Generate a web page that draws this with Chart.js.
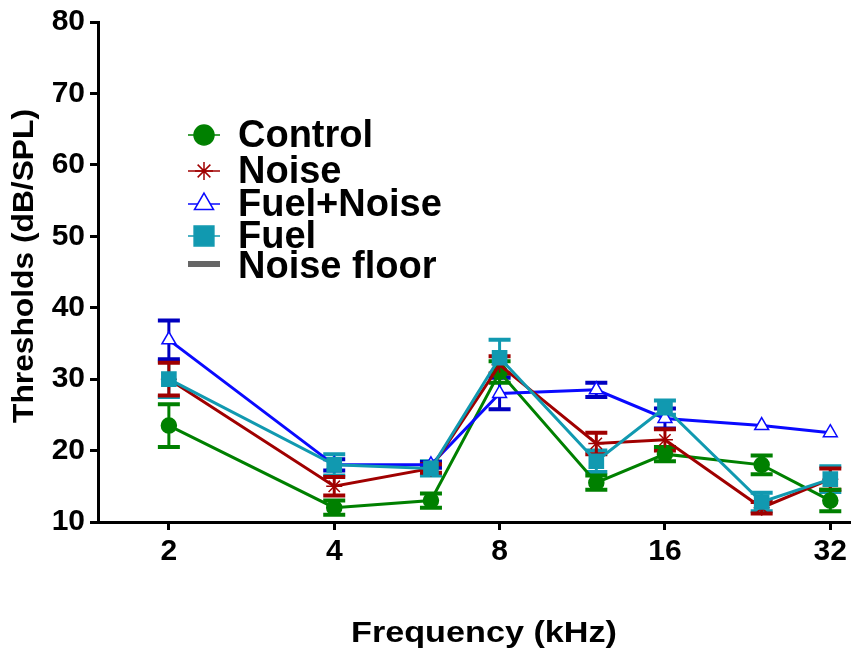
<!DOCTYPE html>
<html>
<head>
<meta charset="utf-8">
<script src="https://cdn.jsdelivr.net/npm/chart.js@4"></script>
<style>
  html, body { margin: 0; padding: 0; background: #fff; }
  #wrap { width: 851px; height: 653px; }
</style>
</head>
<body>
<div id="wrap"><canvas id="myChart"></canvas></div>
<script>
const frequencies = [2, 4, 6, 8, 12, 16, 24, 32];
const xTicks = [2, 4, 8, 16, 32];
const yTicks = [10, 20, 30, 40, 50, 60, 70, 80];

const control = [23.5, 12, 13, 31, 15.5, 19.5, 18, 13];
const controlErr = [3, 1, 1, 1.5, 1, 1, 1.3, 1.5];
const noise = [30, 15, 17.5, 32, 21, 21.5, 12, 16];
const noiseErr = [2.3, 1.3, 0.6, 1.2, 1.5, 1.5, 0.8, 1.5];
const fuelNoise = [35.5, 18, 18, 28, 28.5, 24.5, 23.5, 22.5];
const fuelNoiseErr = [2.7, 0.8, 0.4, 2.2, 1, 1.4, 0, 0];
const fuel = [30, 18, 17.5, 33, 18.5, 26, 12.8, 16];
const fuelErr = [2.5, 1.5, 1, 2.5, 1.5, 1, 1.3, 1.8];

(function () {
    const ctx = document.getElementById('myChart');
    const FONT = '"Liberation Sans", Arial, sans-serif';

    function pts(values) {
        return values.map((v, i) => ({ x: frequencies[i], y: v }));
    }

    const series = [
        { label: 'Control', values: control, err: controlErr, color: '#008000', bar: '#008000', style: 'circle', radius: 7.5, legendRadius: 10, fill: '#008000', order: 3 },
        { label: 'Noise', values: noise, err: noiseErr, color: '#a00000', bar: '#a00000', style: 'star', radius: 8, legendRadius: 9, fill: '#a00000', order: 1 },
        { label: 'Fuel+Noise', values: fuelNoise, err: fuelNoiseErr, color: '#0a0aff', bar: '#0000c0', style: 'triangle', radius: 8, legendRadius: 11, fill: '#ffffff', order: 2 },
        { label: 'Fuel', values: fuel, err: fuelErr, color: '#1199b0', bar: '#1199b0', style: 'rect', radius: 10, legendRadius: 14, fill: '#1199b0', order: 0 }
    ];

    const errorBars = {
        id: 'errorBars',
        beforeDatasetsDraw(chart) {
            const c = chart.ctx;
            const xs = chart.scales.x, ys = chart.scales.y;
            c.save();
            series.slice().reverse().forEach(s => {
                c.strokeStyle = s.bar;
                s.values.forEach((v, i) => {
                    if (!s.err[i]) return;
                    const x = xs.getPixelForValue(frequencies[i]);
                    const yt = ys.getPixelForValue(v + s.err[i]);
                    const yb = ys.getPixelForValue(v - s.err[i]);
                    c.lineWidth = 3;
                    c.beginPath();
                    c.moveTo(x, yt); c.lineTo(x, yb);
                    c.stroke();
                    c.lineWidth = 4;
                    c.beginPath();
                    c.moveTo(x - 11, yt); c.lineTo(x + 11, yt);
                    c.moveTo(x - 11, yb); c.lineTo(x + 11, yb);
                    c.stroke();
                });
            });
            c.restore();
        }
    };

    function stretchedText(c, text, cx, cy, width, rot) {
        const w = c.measureText(text).width;
        c.save();
        c.translate(cx, cy);
        if (rot) c.rotate(rot);
        c.scale(width / w, 1);
        c.fillText(text, 0, 0);
        c.restore();
    }

    const texts = {
        id: 'texts',
        afterDraw(chart) {
            const c = chart.ctx;
            c.save();
            c.fillStyle = '#000';
            c.font = 'bold 30px ' + FONT;
            c.textAlign = 'center';
            c.textBaseline = 'middle';
            stretchedText(c, 'Frequency (kHz)', 484, 634, 266, 0);
            stretchedText(c, 'Thresholds (dB/SPL)', 25, 266, 314, -Math.PI / 2);
            c.restore();

            // legend
            c.save();
            c.font = 'bold 38px ' + FONT;
            c.textBaseline = 'middle';
            const rows = [135, 171, 204, 236, 266];
            series.forEach((s, i) => {
                const y = rows[i];
                c.strokeStyle = s.color;
                c.lineWidth = 1.5;
                c.beginPath(); c.moveTo(188, y); c.lineTo(220, y); c.stroke();
                c.fillStyle = s.fill;
                c.strokeStyle = s.color;
                c.lineWidth = 1.5;
                Chart.helpers.drawPoint(c, { pointStyle: s.style, radius: s.legendRadius, borderWidth: 1.5, rotation: 0 }, 204, y);
                c.fillStyle = '#000';
                c.fillText(s.label, 238, y + 2);
            });
            c.fillStyle = '#666';
            c.fillRect(188, 261, 32, 6);
            c.fillStyle = '#000';
            c.fillText('Noise floor', 238, rows[4] + 2);
            c.restore();
        }
    };

    const data = {
        datasets: series.map(s => ({
            label: s.label,
            data: pts(s.values),
            borderColor: s.color,
            backgroundColor: s.fill,
            borderWidth: 3,
            pointStyle: s.style,
            pointRadius: s.radius,
            pointBorderColor: s.color,
            pointBackgroundColor: s.fill,
            pointBorderWidth: 1.5,
            order: s.order,
            clip: false,
            tension: 0
        }))
    };

    const tickFont = { family: FONT, size: 30, weight: 'bold' };

    const config = {
        type: 'line',
        data: data,
        options: {
            responsive: true,
            maintainAspectRatio: false,
            animation: false,
            layout: { autoPadding: false, padding: { top: 22, right: 0, left: 0, bottom: 0 } },
            scales: {
                x: {
                    type: 'logarithmic',
                    min: 1.486,
                    max: 34.9,
                    afterBuildTicks: scale => { scale.ticks = xTicks.map(v => ({ value: v })); },
                    afterFit: scale => { scale.height = 131; scale.paddingLeft = 0; scale.paddingRight = 0; },
                    border: { color: '#000', width: 3 },
                    grid: { drawOnChartArea: false, drawTicks: true, tickLength: 8, color: '#000', lineWidth: 3 },
                    ticks: { color: '#000', font: tickFont, padding: 4, maxRotation: 0, autoSkip: false, callback: v => String(v) }
                },
                y: {
                    min: 10,
                    max: 80,
                    afterBuildTicks: scale => { scale.ticks = yTicks.map(v => ({ value: v })); },
                    afterFit: scale => { scale.width = 98; scale.paddingTop = 0; scale.paddingBottom = 0; },
                    border: { color: '#000', width: 3 },
                    grid: { drawOnChartArea: false, drawTicks: true, tickLength: 8, color: '#000', lineWidth: 3 },
                    ticks: { color: '#000', font: tickFont, padding: 5 }
                }
            },
            plugins: {
                legend: { display: false },
                tooltip: { enabled: false }
            }
        },
        plugins: [errorBars, texts]
    };

    if (ctx) {
        new Chart(ctx, config);
    }
})();
</script>
</body>
</html>
